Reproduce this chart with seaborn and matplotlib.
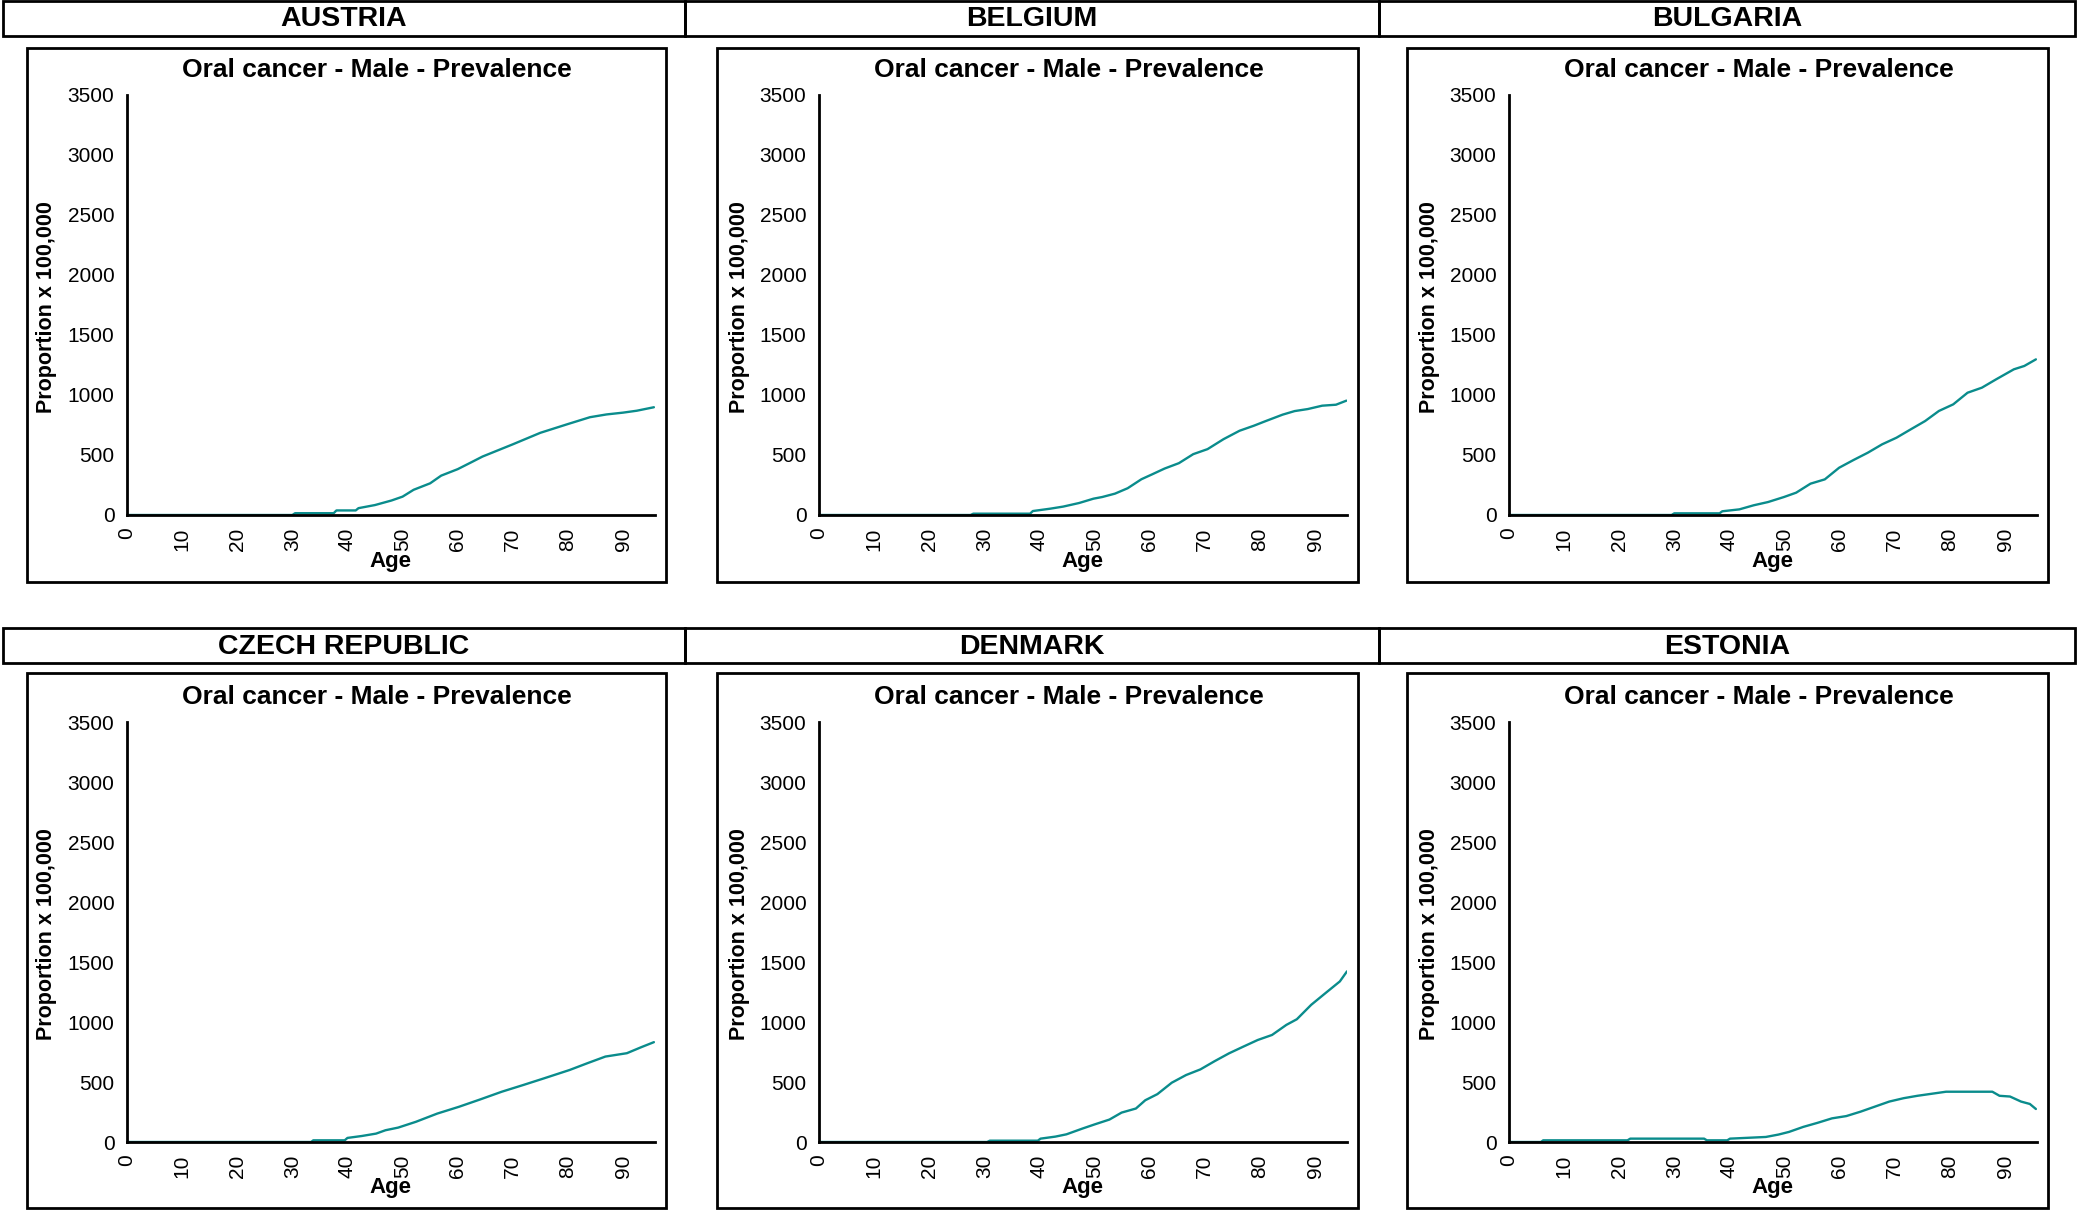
import matplotlib
matplotlib.use('Agg')
import matplotlib.pyplot as plt
import seaborn as sns
from matplotlib.patches import Rectangle

# data (age, proportion x 100,000)
countries = ['AUSTRIA', 'BELGIUM', 'BULGARIA', 'CZECH REPUBLIC', 'DENMARK', 'ESTONIA']

austria_age = [0, 30, 30.5, 37.5, 38, 41.5, 42, 45, 48, 50, 52, 55, 57, 60, 62.5, 64.5,
               70, 75, 80, 84, 87, 90, 92.5, 95.6]
austria_val = [0, 0, 15, 15, 38, 38, 57, 83, 121, 153, 210, 264, 328, 382, 440, 487,
               589, 685, 758, 815, 838, 853, 869, 898]

belgium_age = [0, 27.5, 28, 38.3, 38.8, 42, 44.3, 47.2, 49.8, 51.4, 53.7, 56, 58.5, 60.5,
               62.7, 65.3, 67.9, 70.5, 73.4, 76.3, 78.9, 80.9, 84.1, 86.3, 88.7, 91.3, 93.8, 95.7]
belgium_val = [0, 0, 11, 11, 33, 53, 70, 100, 136, 150, 178, 223, 298, 340,
               387, 432, 507, 549, 632, 702, 744, 780, 836, 866, 883, 911, 919, 953]

bulgaria_age = [0, 29.5, 30, 38.2, 38.7, 41.8, 44.4, 47, 49.9, 52.1, 54.7, 57.3, 59.9, 62.5,
                65.1, 67.7, 70.3, 72.9, 75.5, 78, 80.6, 83.2, 85.8, 88.4, 91.6, 93.5, 95.6]
bulgaria_val = [0, 0, 14, 14, 31, 47, 81, 108, 150, 186, 261, 297, 394, 458,
                519, 589, 644, 714, 783, 867, 922, 1019, 1061, 1131, 1214, 1242, 1297]

czech_age = [0, 33.4, 33.8, 39.5, 40, 42.6, 45.2, 46.9, 49.2, 52.4, 56.3, 60.2, 64.1, 68,
             71.9, 75.7, 80.3, 83.5, 86.8, 90.7, 93.3, 95.6]
czech_val = [0, 0, 14, 14, 34, 50, 70, 98, 120, 168, 237, 293, 355, 419,
             475, 531, 600, 656, 712, 740, 790, 832]

denmark_age = [0, 30.5, 31, 39.7, 40.2, 42.9, 44.9, 47.8, 50.1, 52.7, 54.9, 57.5, 59.2, 61.4,
               64, 66.6, 69.2, 71.8, 74.4, 77, 79.6, 82.2, 84.8, 86.7, 89.3, 91.9, 94.5, 95.8]
denmark_val = [0, 0, 11, 11, 28, 45, 64, 112, 148, 187, 245, 279, 348, 399,
               494, 558, 605, 674, 739, 795, 850, 892, 976, 1023, 1143, 1241, 1338, 1422]

estonia_age = [0, 5.8, 6.2, 21.5, 22, 35.4, 35.9, 39.6, 40.1, 46.6, 48.9, 50.8, 53.4, 56,
               58.6, 61.2, 63.8, 66.4, 69, 71.6, 74.1, 76.7, 79.3, 87.7, 89, 90.9, 92.9, 94.5, 95.6]
estonia_val = [0, 0, 14, 14, 28, 28, 14, 14, 28, 42, 62, 84, 126, 160,
               197, 216, 253, 295, 337, 365, 385, 402, 419, 419, 385, 379, 337, 317, 275]

series = [(austria_age, austria_val), (belgium_age, belgium_val), (bulgaria_age, bulgaria_val),
          (czech_age, czech_val), (denmark_age, denmark_val), (estonia_age, estonia_val)]

sns.set_style('white')
plt.rcParams['font.family'] = ['Liberation Sans', 'DejaVu Sans']
plt.rcParams['text.color'] = 'black'
plt.rcParams['xtick.color'] = 'black'
plt.rcParams['ytick.color'] = 'black'
plt.rcParams['axes.labelcolor'] = 'black'

W, H = 2078, 1211
fig = plt.figure(figsize=(W / 100, H / 100), dpi=100)


def fx(px):
    return px / W


def fy(py):
    return 1 - py / H


# header strips with country names
header_rows = [(1, 36), (628, 663)]
col_edges = [3, 685, 1379, 2075]
for r, (top, bot) in enumerate(header_rows):
    for c in range(3):
        x0, x1 = col_edges[c], col_edges[c + 1]
        fig.patches.append(Rectangle((fx(x0), fy(bot)), fx(x1 - x0), (bot - top) / H,
                                     transform=fig.transFigure, fill=False,
                                     edgecolor='black', linewidth=2))
        fig.text(fx((x0 + x1) / 2), fy((top + bot) / 2 + 1), countries[r * 3 + c],
                 ha='center', va='center', fontsize=20.5, fontweight='bold')

# chart frames
panel_x = [(27, 666), (717, 1358), (1407, 2048)]
panel_y = [(48, 582), (673, 1208)]
axes_left = [127, 819, 1509]
axes_top = [95, 722]
ax_w, ax_h = 528, 420

for r in range(2):
    for c in range(3):
        px0, px1 = panel_x[c]
        py0, py1 = panel_y[r]
        fig.patches.append(Rectangle((fx(px0), fy(py1)), fx(px1 - px0), (py1 - py0) / H,
                                     transform=fig.transFigure, fill=False,
                                     edgecolor='black', linewidth=2))

        ages, vals = series[r * 3 + c]
        left, top = axes_left[c], axes_top[r]
        ax = fig.add_axes([fx(left), fy(top + ax_h), fx(ax_w), ax_h / H])
        sns.lineplot(x=ages, y=vals, ax=ax, color='#0a8c8c', linewidth=1.7)

        ax.set_xlim(0, 95.8)
        ax.set_ylim(0, 3500)
        ax.set_xticks(range(0, 91, 10))
        ax.set_yticks(range(0, 3501, 500))
        ax.tick_params(axis='both', direction='out', length=6, width=1.5,
                       color='black', labelcolor='black', labelsize=15, pad=3)
        ax.tick_params(axis='x', labelrotation=90)
        for s in ['top', 'right']:
            ax.spines[s].set_visible(False)
        for s in ['left', 'bottom']:
            ax.spines[s].set_linewidth(2)
            ax.spines[s].set_color('black')
        ax.set_xlabel('')
        ax.set_ylabel('')

        fig.text(fx(left + 250), fy(top - 25), 'Oral cancer - Male - Prevalence',
                 ha='center', va='center', fontsize=19, fontweight='bold')
        fig.text(fx(left - 80), fy(top + 212), 'Proportion x 100,000', rotation=90,
                 ha='center', va='center', fontsize=15.5, fontweight='bold')
        fig.text(fx(left + 263), fy(top + 466), 'Age',
                 ha='center', va='center', fontsize=16, fontweight='bold')

fig.savefig('out.png', dpi=100, facecolor='white')
